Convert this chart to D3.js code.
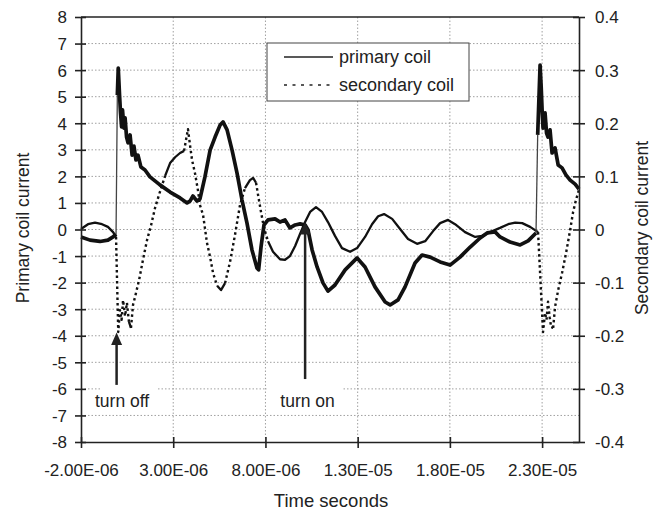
<!DOCTYPE html>
<html>
<head>
<meta charset="utf-8">
<script src="https://cdn.jsdelivr.net/npm/d3@7"></script>
<style>
  body { margin: 0; background: #fff; }
  text { font-family: "Liberation Sans", Arial, sans-serif; fill: #222; }
</style>
</head>
<body>
<svg id="chart" width="658" height="510"></svg>
<script>
// time in microseconds, current in A
var primaryCoil = [
  [-2.00,-0.28],[-1.51,-0.40],[-0.97,-0.45],[-0.54,-0.40],[-0.26,-0.28],[-0.10,-0.17],
  [-0.07,2.05],[-0.03,5.06],[0.02,6.08],[0.09,5.06],[0.14,4.42],[0.20,3.86],[0.25,4.50],
  [0.33,3.82],[0.39,4.20],[0.47,3.48],[0.55,3.26],[0.66,3.56],[0.77,2.80],[0.87,3.14],
  [0.98,2.62],[1.09,2.80],[1.25,2.35],[1.47,2.24],[1.74,1.98],[2.01,1.83],[2.28,1.68],
  [2.83,1.41],[3.37,1.19],[3.75,1.00],[3.91,1.07],[4.07,1.26],[4.29,1.07],[4.45,1.15],
  [4.72,1.98],[5.00,2.99],[5.27,3.48],[5.54,3.93],[5.70,4.05],[5.92,3.75],[6.19,2.99],
  [6.46,2.12],[6.73,1.11],[7.00,0.24],[7.27,-0.77],[7.54,-1.45],[7.63,-1.52],[7.76,-0.66],
  [7.92,0.17],[8.14,0.36],[8.52,0.40],[8.79,0.28],[9.06,0.36],[9.33,0.06],[9.61,0.17],
  [9.88,0.21],[10.15,0.17],[10.31,-0.02],[10.53,-0.77],[10.80,-1.41],[11.12,-2.01],
  [11.39,-2.32],[11.77,-2.09],[12.32,-1.52],[12.97,-1.07],[13.40,-1.41],[13.94,-2.16],
  [14.49,-2.73],[14.76,-2.84],[15.19,-2.65],[15.57,-2.16],[16.11,-1.26],[16.49,-0.96],
  [16.93,-1.04],[17.47,-1.22],[18.01,-1.34],[18.55,-1.04],[19.10,-0.66],[19.64,-0.32],
  [20.02,-0.13],[20.45,-0.09],[20.72,-0.28],[21.26,-0.47],[21.81,-0.58],[22.24,-0.43],
  [22.67,-0.13],[22.76,3.56],[22.89,6.19],[22.95,5.36],[23.00,4.50],[23.05,3.82],
  [23.16,4.39],[23.24,3.63],[23.32,3.48],[23.43,3.75],[23.54,2.88],[23.70,3.07],
  [23.87,2.43],[24.08,2.32],[24.30,2.05],[24.52,1.86],[24.79,1.71],[25.00,1.52]
];

var secondaryCoil = [
  [-2.00,0.001],[-1.62,0.010],[-1.24,0.013],[-0.86,0.010],[-0.54,0.005],[-0.26,-0.005],
  [-0.10,-0.014],[0.02,-0.193],[0.11,-0.152],[0.20,-0.170],[0.28,-0.133],[0.39,-0.163],
  [0.49,-0.138],[0.60,-0.174],[0.71,-0.185],[0.82,-0.142],[0.93,-0.127],[1.15,-0.095],
  [1.36,-0.057],[1.58,-0.020],[1.80,0.008],[2.01,0.040],[2.28,0.071],[2.56,0.101],
  [2.83,0.125],[3.10,0.136],[3.37,0.144],[3.59,0.148],[3.69,0.168],[3.80,0.189],
  [3.91,0.159],[4.02,0.131],[4.18,0.106],[4.34,0.074],[4.45,0.046],[4.62,0.027],
  [4.83,-0.025],[5.00,-0.052],[5.16,-0.082],[5.38,-0.106],[5.59,-0.114],[5.81,-0.101],
  [6.08,-0.061],[6.35,-0.010],[6.62,0.046],[6.89,0.078],[7.16,0.093],[7.33,0.097],
  [7.49,0.088],[7.60,0.065],[7.76,0.033],[7.92,0.003],[8.14,-0.022],[8.41,-0.042],
  [8.79,-0.056],[9.06,-0.057],[9.33,-0.050],[9.61,-0.031],[9.88,-0.008],[10.15,0.014],
  [10.42,0.033],[10.74,0.042],[11.07,0.033],[11.39,0.014],[11.77,-0.012],[12.15,-0.035],
  [12.59,-0.042],[12.97,-0.035],[13.40,-0.014],[13.78,0.010],[14.11,0.025],[14.43,0.029],
  [14.87,0.020],[15.30,0.001],[15.73,-0.018],[16.22,-0.027],[16.66,-0.022],[17.09,-0.003],
  [17.47,0.012],[17.90,0.018],[18.28,0.010],[18.82,-0.005],[19.37,-0.014],[19.75,-0.012],
  [20.18,-0.005],[20.72,0.003],[21.16,0.010],[21.54,0.013],[21.92,0.012],[22.35,0.005],
  [22.78,-0.005],[23.05,-0.193],[23.16,-0.157],[23.24,-0.170],[23.32,-0.136],[23.41,-0.165],
  [23.49,-0.184],[23.60,-0.185],[23.70,-0.146],[23.87,-0.114],[24.08,-0.082],[24.30,-0.044],
  [24.52,-0.001],[24.68,0.033],[24.84,0.056],[25.00,0.075]
];

var timeTicks = [-2e-6, 3e-6, 8e-6, 1.3e-5, 1.8e-5, 2.3e-5];
var primaryTicks = [-8,-7,-6,-5,-4,-3,-2,-1,0,1,2,3,4,5,6,7,8];
var secondaryTicks = [-0.4,-0.3,-0.2,-0.1,0,0.1,0.2,0.3,0.4];
var seriesNames = ["primary coil", "secondary coil"];

// arrows: time (us), from / to (primary-axis units)
var notes = [
  { label: "turn off", t: -0.07, from: -5.85, to: -3.88, dx: 5.5 },
  { label: "turn on", t: 10.15, from: -5.63, to: 0.28, dx: 2.5 }
];

var pL = 81, pR = 579, pT = 17, pB = 442;
var svg = d3.select("#chart");

var x = d3.scaleLinear().domain([-2e-6, 2.5e-5]).range([pL, pR]);
var yP = d3.scaleLinear().domain([-8, 8]).range([pB, pT]);
var yS = d3.scaleLinear().domain([-0.4, 0.4]).range([pB, pT]);

function fmtE(v) {
  return v.toExponential(2).toUpperCase().replace(/E([+-])(\d)$/, "E$10$2");
}

// grid
svg.append("g").selectAll("line")
  .data(primaryTicks.filter(function (d) { return d > -8 && d < 8; }))
  .enter().append("line")
  .attr("x1", pL).attr("x2", pR)
  .attr("y1", function (d) { return yP(d); }).attr("y2", function (d) { return yP(d); })
  .style("stroke", "#a0a0a0").style("stroke-dasharray", "1.5,2");
svg.append("g").selectAll("line")
  .data(timeTicks.slice(1))
  .enter().append("line")
  .attr("y1", pT).attr("y2", pB)
  .attr("x1", function (d) { return x(d); }).attr("x2", function (d) { return x(d); })
  .style("stroke", "#a0a0a0").style("stroke-dasharray", "1.5,2");

// white boxes behind the notes
svg.append("rect").attr("x", 100).attr("y", 381).attr("width", 57).attr("height", 31).style("fill", "#fff");
svg.append("rect").attr("x", 267).attr("y", 381).attr("width", 75).attr("height", 31).style("fill", "#fff");

// split a series into runs of segments with the same style
function runs(pts, test) {
  var out = [];
  for (var i = 0; i < pts.length - 1; i++) {
    var f = test(pts[i], pts[i + 1]);
    if (out.length && out[out.length - 1].flag === f) {
      out[out.length - 1].pts.push(pts[i + 1]);
    } else {
      out.push({ flag: f, pts: [pts[i], pts[i + 1]] });
    }
  }
  return out;
}
function slope(a, b) { return Math.abs((b[1] - a[1]) / (b[0] - a[0])); }
var line = d3.line();

var pPts = primaryCoil.map(function (d) { return [x(d[0] * 1e-6), yP(d[1])]; });
var sPts = secondaryCoil.map(function (d) { return [x(d[0] * 1e-6), yS(d[1])]; });

// secondary: dotted where the trace moves fast
runs(sPts, function (a, b) { return slope(a, b) > 3; }).forEach(function (r) {
  svg.append("path").attr("d", line(r.pts))
    .style("fill", "none").style("stroke", "#111")
    .style("stroke-width", r.flag ? 2.4 : 2.3)
    .style("stroke-dasharray", r.flag ? "2.5,3" : null)
    .style("stroke-linejoin", "round");
});

// primary: thick noisy trace, thin on the switching jumps
runs(pPts, function (a, b) { return slope(a, b) > 40; }).forEach(function (r) {
  svg.append("path").attr("d", line(r.pts))
    .style("fill", "none").style("stroke", r.flag ? "#444" : "#111")
    .style("stroke-width", r.flag ? 1.3 : 3.7)
    .style("stroke-linejoin", "round");
});

// axes
var gx = svg.append("g").attr("transform", "translate(0," + pB + ")")
  .call(d3.axisBottom(x).tickValues(timeTicks).tickFormat(fmtE).tickSizeOuter(0));
gx.selectAll(".tick line").attr("y1", -5).attr("y2", 6);
gx.selectAll("text").attr("y", 34).attr("dy", null).style("font-size", "17px");

var gl = svg.append("g").attr("transform", "translate(" + pL + ",0)")
  .call(d3.axisLeft(yP).tickValues(primaryTicks).tickFormat(String).tickSizeOuter(0));
gl.selectAll(".tick line").attr("x1", 5).attr("x2", -6);
gl.selectAll("text").attr("x", -14).attr("dy", "0.35em").style("font-size", "17px");

var gr = svg.append("g").attr("transform", "translate(" + pR + ",0)")
  .call(d3.axisRight(yS).tickValues(secondaryTicks).tickFormat(String).tickSizeOuter(0));
gr.selectAll(".tick line").attr("x1", -6).attr("x2", 6);
gr.selectAll("text").attr("x", 16).attr("dy", "0.35em").style("font-size", "17px");

svg.selectAll(".domain, .tick line").style("stroke", "#222").style("stroke-width", 1.6);
svg.append("line").attr("x1", pL).attr("x2", pR).attr("y1", pT).attr("y2", pT)
  .style("stroke", "#222").style("stroke-width", 1.6);

// titles
svg.append("text").attr("x", 331).attr("y", 507).attr("text-anchor", "middle")
  .style("font-size", "18.5px").text("Time seconds");
svg.append("text").attr("transform", "translate(29,228) rotate(-90)").attr("text-anchor", "middle")
  .style("font-size", "17.5px").text("Primary coil current");
svg.append("text").attr("transform", "translate(648,228) rotate(-90)").attr("text-anchor", "middle")
  .style("font-size", "17.5px").text("Secondary coil current");

// notes with arrows
notes.forEach(function (n) {
  var ax = x(n.t * 1e-6), y0 = yP(n.from), y1 = yP(n.to);
  svg.append("line").attr("x1", ax).attr("x2", ax).attr("y1", y0).attr("y2", y1 + 10)
    .style("stroke", "#222").style("stroke-width", 2.5);
  svg.append("path")
    .attr("d", "M" + ax + "," + y1 + "L" + (ax - 5.5) + "," + (y1 + 12.5) + "L" + (ax + 5.5) + "," + (y1 + 12.5) + "Z")
    .style("fill", "#222");
  svg.append("text").attr("x", ax + n.dx).attr("y", 407)
    .attr("text-anchor", "middle").style("font-size", "17.5px").text(n.label);
});

// legend
var lg = svg.append("g");
lg.append("rect").attr("x", 267).attr("y", 43).attr("width", 202).attr("height", 58)
  .style("fill", "#fff").style("stroke", "#444").style("stroke-width", 1);
seriesNames.forEach(function (name, i) {
  var ly = 57 + i * 28;
  lg.append("line").attr("x1", 284).attr("x2", 333).attr("y1", ly).attr("y2", ly)
    .style("stroke", "#222").style("stroke-width", 1.5)
    .style("stroke-dasharray", i ? "3,5.5" : null);
  lg.append("text").attr("x", 339).attr("y", ly + 6).style("font-size", "18px").text(name);
});
</script>
</body>
</html>
